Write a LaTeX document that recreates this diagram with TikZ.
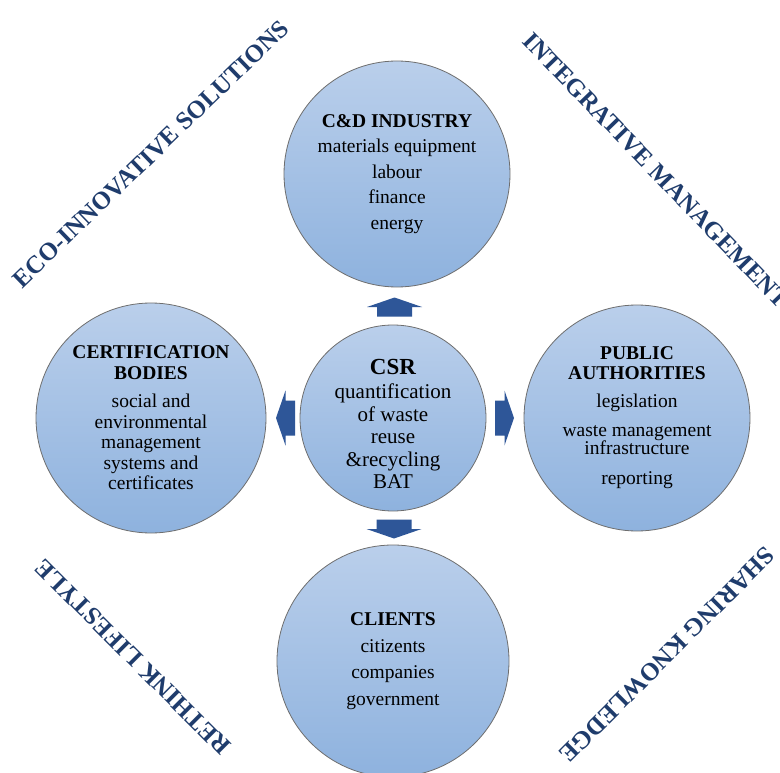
\documentclass[tikz,border=0pt]{standalone}
\usepackage{fontspec}
\setmainfont{Liberation Serif}
\definecolor{navy}{RGB}{31,60,108}
\definecolor{arrowblue}{RGB}{46,86,152}
\definecolor{ctop}{RGB}{186,207,235}
\definecolor{cbot}{RGB}{142,178,222}
\definecolor{rim}{RGB}{110,110,110}
\tikzset{
  bubble/.style={circle, draw=rim, line width=0.8pt, top color=ctop, bottom color=cbot, inner sep=0pt},
  bubtext/.style={align=center, inner sep=0pt, text=black},
  corner/.style={inner sep=0pt, text=navy},
  pics/blockarrow/.style={code={
    \fill[arrowblue] (0,-17.5) -- (9.5,-17.5) -- (9.5,-27.5) -- (19,0) -- (9.5,27.5) -- (9.5,17.5) -- (0,17.5) -- cycle;}}
}
\begin{document}
\begin{tikzpicture}[x=1pt, y=-1pt]
\useasboundingbox (0,0) rectangle (780,773);
\fill[white] (0,0) rectangle (780,773);

% circles
\node[bubble, minimum size=226pt] (cd) at (397,174) {};
\node[bubble, minimum size=186pt] (csr) at (393,418) {};
\node[bubble, minimum size=230pt] (cert) at (151,418) {};
\node[bubble, minimum size=226pt] (pub) at (637,418) {};
\node[bubble, minimum size=232pt] (cli) at (393,661) {};

% texts in circles
\node[bubtext, font=\fontsize{19.5}{25.5}\selectfont] (cdtxt) at (cd.center)
  {\textbf{C\&D INDUSTRY}\\materials equipment\\labour\\finance\\energy};
\node[bubtext, font=\fontsize{21}{22.5}\selectfont] (csrtxt) at ([yshift=-6pt]csr.center)
  {{\fontsize{23}{23}\selectfont\textbf{CSR}}\\[2pt]quantification\\of waste\\reuse\\\&recycling\\BAT};
\node[bubtext, font=\fontsize{19.5}{20.5}\selectfont] (certtxt) at (cert.center)
  {\textbf{CERTIFICATION}\\\textbf{BODIES}\\[8pt]social and\\environmental\\management\\systems and\\certificates};
\node[bubtext, font=\fontsize{19.5}{20}\selectfont] (pubtxt) at (pub.center)
  {\textbf{PUBLIC}\\\textbf{AUTHORITIES}\\[8pt]legislation\\[9pt]waste management\\[-2pt]infrastructure\\[10pt]reporting};
\node[bubtext, font=\fontsize{19.5}{26.5}\selectfont] (clitxt) at (cli.center)
  {\textbf{CLIENTS}\\citizents\\companies\\government};

% block arrows
\pic[rotate=90] (aup) at (394.5,316.5) {blockarrow};
\pic[rotate=-90] (adown) at (394,519.5) {blockarrow};
\pic[rotate=180] (aleft) at (295,418) {blockarrow};
\pic (aright) at (495,418) {blockarrow};

% corner texts
\node[corner, font=\fontsize{25}{25}\selectfont\bfseries, rotate=44] (eco) at (151,154) {ECO-INNOVATIVE SOLUTIONS};
\node[corner, font=\fontsize{25}{25}\selectfont\bfseries, rotate=-46] (integ) at (656,170) {INTEGRATIVE MANAGEMENT};
\node[corner, font=\fontsize{25}{25}\selectfont\bfseries, rotate=135] (rethink) at (133,657) {RETHINK LIFESTYLE};
\node[corner, font=\fontsize{25}{25}\selectfont\bfseries, rotate=-135] (sharing) at (667,655) {SHARING KNOWLEDGE};
\end{tikzpicture}
\end{document}
